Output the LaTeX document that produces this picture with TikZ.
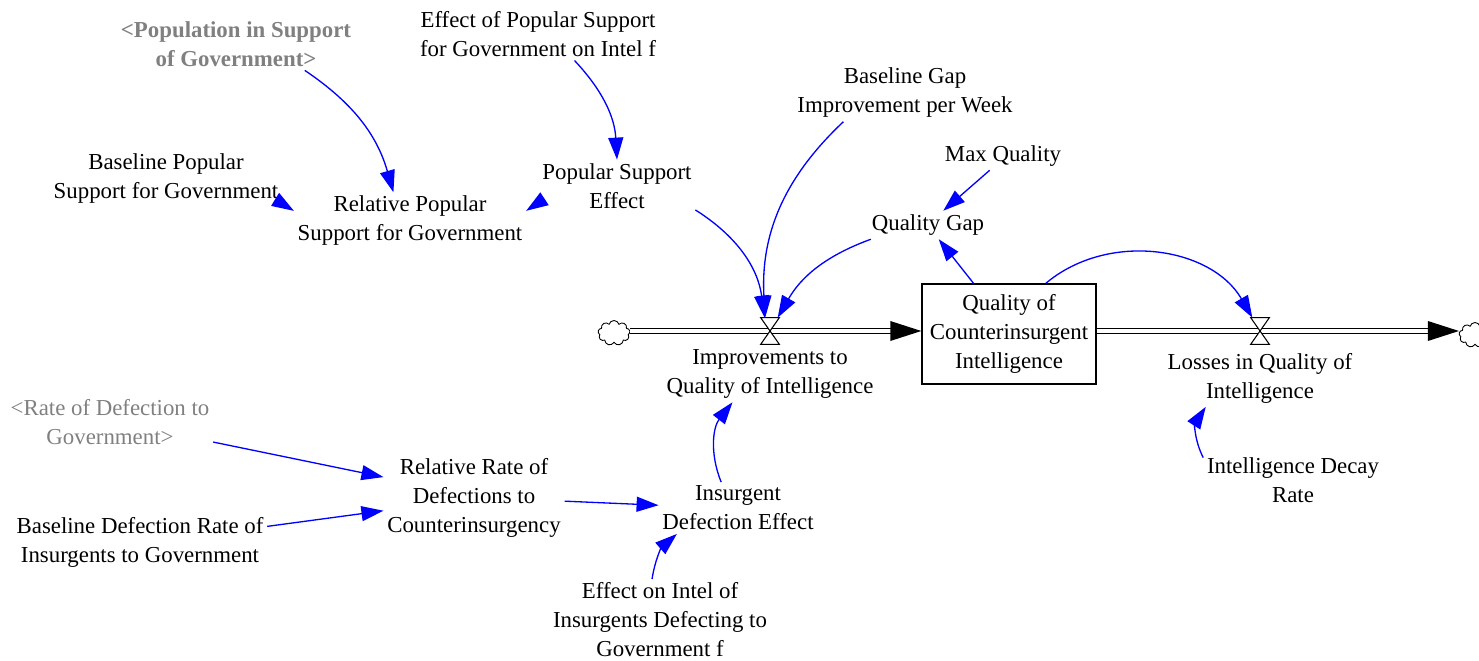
\documentclass[tikz,border=0pt]{standalone}
\usepackage{fontspec}
\setmainfont{Liberation Serif}
\usetikzlibrary{arrows.meta,shapes.symbols}
\definecolor{linkblue}{HTML}{0000FF}
\definecolor{ghostgray}{HTML}{808080}
\newcommand{\varfont}{\fontsize{13}{16.5}\selectfont}

\begin{document}
\begin{tikzpicture}[x=0.02cm, y=-0.02cm,
    var/.style={align=center, inner sep=2pt, font=\varfont, yshift=-0.06cm},
    ghost/.style={var, text=ghostgray},
    link/.style={linkblue, line width=0.75pt, -{Triangle[length=4.4mm,width=3mm]}},
    pipe/.style={double, double distance=2.3pt, line width=0.7pt},
    valvebox/.style={minimum width=3.6mm, minimum height=5.2mm, inner sep=0pt},
    stockbox/.style={align=center, font=\varfont, draw, line width=0.8pt, minimum width=3.48cm, minimum height=2cm},
    cloudnode/.style={cloud, cloud puffs=9, draw, line width=0.5pt, inner sep=0pt, minimum width=6.4mm, minimum height=5mm}]

  \useasboundingbox (0,0) rectangle (1479,661);

  % Variables
  \node[ghost, font=\varfont\bfseries] (popgov) at (236,41) {<Population in Support\\of Government>};
  \node[var] (effpop) at (538,31) {Effect of Popular Support\\for Government on Intel f};
  \node[var] (basegap) at (905,90) {Baseline Gap\\Improvement per Week};
  \node[var] (maxq) at (1003,153) {Max Quality};
  \node[var] (basepop) at (166,176) {Baseline Popular\\Support for Government};
  \node[var] (relpop) at (410,218) {Relative Popular\\Support for Government};
  \node[var] (popeff) at (617,183) {Popular Support\\Effect};
  \node[var] (qgap) at (928,222) {Quality Gap};
  \node[var] (impr) at (770,371) {Improvements to\\Quality of Intelligence};
  \node[var] (loss) at (1260,375) {Losses in Quality of\\Intelligence};
  \node[var] (decay) at (1293,477) {Intelligence Decay\\Rate};
  \node[ghost] (ratedef) at (110,419) {<Rate of Defection to\\Government>};
  \node[var] (relrate) at (474,495) {Relative Rate of\\Defections to\\Counterinsurgency};
  \node[var] (basedef) at (140,539) {Baseline Defection Rate of\\Insurgents to Government};
  \node[var] (insdef) at (738,505) {Insurgent\\Defection Effect};
  \node[var] (effins) at (660,617) {Effect on Intel of\\Insurgents Defecting to\\Government f};

  % Stock, clouds and valves
  \node[stockbox] (stock) at (1009,334) {Quality of\\Counterinsurgent\\Intelligence};
  \node[cloudnode] (cloudL) at (614,333) {};
  \node[cloudnode] (cloudR) at (1475,335) {};
  \node[valvebox] (vA) at (770,331) {};
  \node[valvebox] (vB) at (1260,331) {};

  % Flows
  \draw[pipe, shorten >=6mm] (cloudL.east |- vA) -- (stock.west |- vA);
  \fill (stock.west |- vA) -- ++(-31,-10) -- ++(0,20) -- cycle;
  \draw[pipe, shorten >=6mm] (stock.east |- vB) -- (cloudR.west |- vB);
  \fill (cloudR.west |- vB) -- ++(-31,-10) -- ++(0,20) -- cycle;
  \filldraw[fill=white, line width=0.6pt] (vA.north west) -- (vA.north east) -- (vA.south west) -- (vA.south east) -- cycle;
  \filldraw[fill=white, line width=0.6pt] (vB.north west) -- (vB.north east) -- (vB.south west) -- (vB.south east) -- cycle;

  % Links
  \draw[link] (popgov.-21) to[bend left=20] (relpop.120);
  \draw[link] (basepop.-12) -- (relpop.175);
  \draw[link] (popeff.192) -- (relpop.5);
  \draw[link] (effpop.-36) to[bend left=20] (popeff.90);
  \draw[link] (popeff.-17) to[bend left=25] (vA.112);
  \draw[link] (basegap.205) to[bend right=25] (vA.110);
  \draw[link] (qgap.194) to[bend right=20] (vA.60);
  \draw[link] (maxq.227) -- (qgap.43);
  \draw[link] (stock.125) -- (qgap.-53);
  \draw[link] (stock.54) to[out=40, in=120] (vB.120);
  \draw[link] (decay.166) to[bend left=30] (loss.208);
  \draw[link] (insdef.123) to[bend left=30] (impr.217);
  \draw[link] (ratedef.-11) -- (relrate.167);
  \draw[link] (basedef.7) -- (relrate.188);
  \draw[link] (relrate.-2) -- (insdef.178);
  \draw[link] (effins.101) to[bend left=20] (insdef.203);
\end{tikzpicture}
\end{document}
